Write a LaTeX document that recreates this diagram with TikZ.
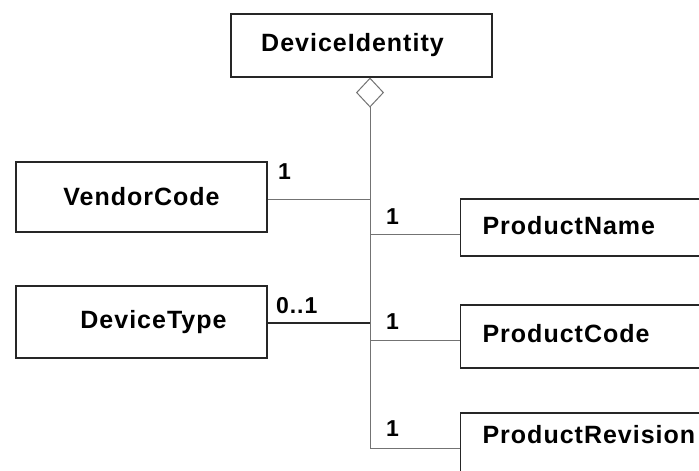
\documentclass[tikz,border=0pt]{standalone}
\usepackage{fontspec}
\setmainfont[LetterSpace=4]{Liberation Sans}
\usetikzlibrary{arrows.meta}

\tikzset{
  cls/.style={draw=black!85, line width=1.1pt, inner sep=0pt,
              font=\bfseries\fontsize{25}{30}\selectfont},
  side/.style={cls, anchor=west, minimum width=320pt, text width=276pt,
               align=left, inner xsep=22pt, text height=19pt},
  conn/.style={draw=black!55, line width=1pt},
  mult/.style={inner sep=0pt, anchor=base west,
               font=\bfseries\fontsize{23}{26}\selectfont}
}

\begin{document}
\begin{tikzpicture}[x=1pt, y=-1pt]
\useasboundingbox (0,0) rectangle (699,471);
\clip (0,0) rectangle (699,471);
\fill[white] (0,0) rectangle (699,471);

% classes
\node[cls, minimum width=261pt, minimum height=63pt] (ident) at (361.5,45.5) {DeviceIdentity\hspace*{18pt}};
\node[cls, minimum width=251pt, minimum height=70pt] (vendor) at (141.5,197) {VendorCode};
\node[cls, minimum width=251pt, minimum height=72pt] (dtype) at (141.5,322) {\hspace*{24pt}DeviceType};
\node[side, minimum height=57pt, text depth=6pt] (pname) at (460,227.5) {ProductName};
\node[side, minimum height=63pt, text depth=8pt] (pcode) at (460,336.5) {ProductCode};
\node[side, minimum height=63pt, text depth=22pt] (prev) at (460,444.5) {ProductRevision};

% junctions on the spine
\coordinate (jv) at (370,199);
\coordinate (jn) at (370,234);
\coordinate (jt) at (370,323);
\coordinate (jc) at (370,340);
\coordinate (jr) at (370,448);

\draw[conn, -{Diamond[open, length=30pt, width=28pt]}] (jr) -- (jr |- ident.south);

\draw[conn] (vendor.east |- jv) -- (jv);
\draw[conn] (jn) -- (jn -| pname.west);
\draw[conn, draw=black!85, line width=1.8pt] (dtype.east |- jt) -- (jt);
\draw[conn] (jc) -- (jc -| pcode.west);
\draw[conn] (jr) -- (jr -| prev.west);

% multiplicities
\node[mult] (mv) at (278,179) {1};
\node[mult] (mn) at (386,224) {1};
\node[mult] (mt) at (276,313) {0..1};
\node[mult] (mc) at (386,329) {1};
\node[mult] (mr) at (386,436) {1};

\end{tikzpicture}
\end{document}
